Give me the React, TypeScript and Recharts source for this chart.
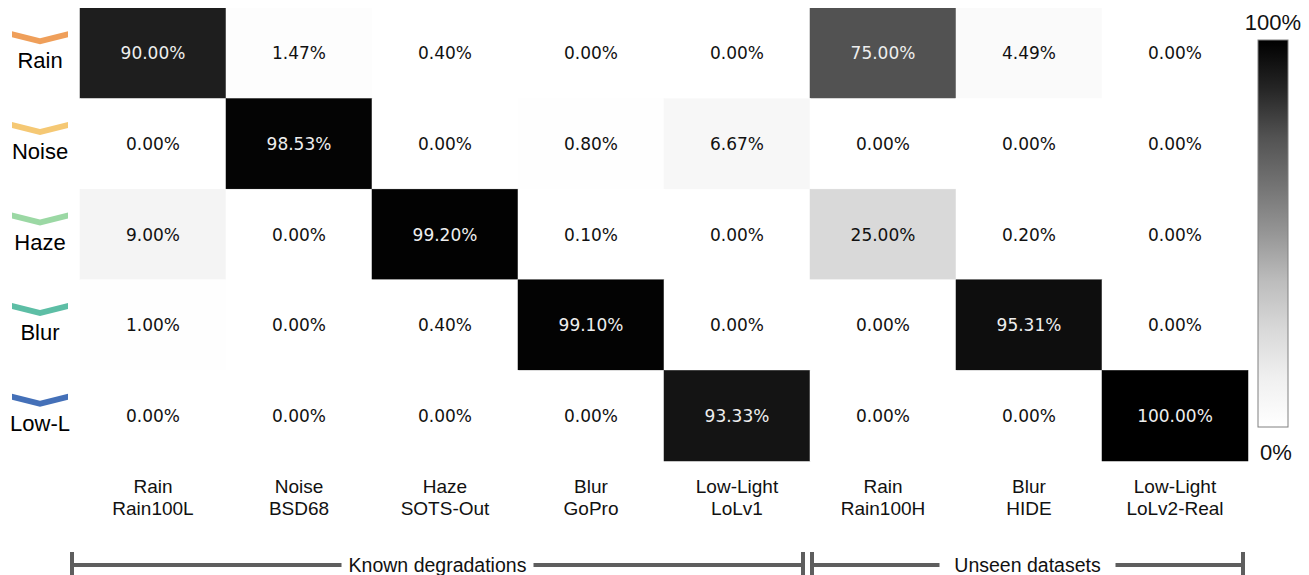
import React from 'react';
import { ScatterChart, Scatter, XAxis, YAxis } from 'recharts';

// Rows: predicted degradation type, columns: evaluated dataset
const rowNames = ['Rain', 'Noise', 'Haze', 'Blur', 'Low-L'];
const rowColors = ['#ef9f5a', '#f5c874', '#9bd8a4', '#5dbea5', '#4470b8'];
const colTypes = ['Rain', 'Noise', 'Haze', 'Blur', 'Low-Light', 'Rain', 'Blur', 'Low-Light'];
const colSets = ['Rain100L', 'BSD68', 'SOTS-Out', 'GoPro', 'LoLv1', 'Rain100H', 'HIDE', 'LoLv2-Real'];

const rainRow = [90.0, 1.47, 0.4, 0.0, 0.0, 75.0, 4.49, 0.0];
const noiseRow = [0.0, 98.53, 0.0, 0.8, 6.67, 0.0, 0.0, 0.0];
const hazeRow = [9.0, 0.0, 99.2, 0.1, 0.0, 25.0, 0.2, 0.0];
const blurRow = [1.0, 0.0, 0.4, 99.1, 0.0, 0.0, 95.31, 0.0];
const lowLightRow = [0.0, 0.0, 0.0, 0.0, 93.33, 0.0, 0.0, 100.0];
const rows = [rainRow, noiseRow, hazeRow, blurRow, lowLightRow];

const groups = [
  { label: 'Known degradations', from: 0, to: 5 },
  { label: 'Unseen datasets', from: 5, to: 8 },
];

// matplotlib "Greys" stops
const GREYS = ['#ffffff', '#f0f0f0', '#d9d9d9', '#bdbdbd', '#969696', '#737373', '#525252', '#252525', '#000000'];

const greys = (t: number) => {
  const v = Math.max(0, Math.min(1, t)) * (GREYS.length - 1);
  const i = Math.min(Math.floor(v), GREYS.length - 2);
  const f = v - i;
  const a = parseInt(GREYS[i].slice(1, 3), 16);
  const b = parseInt(GREYS[i + 1].slice(1, 3), 16);
  const c = Math.round(a + (b - a) * f).toString(16).padStart(2, '0');
  return `#${c}${c}${c}`;
};

const W = 1301;
const H = 567;
const LEFT = 72;
const RIGHT = 61;
const TOP = 0;
const PLOT_BOTTOM = 453;
const PLOT_W = W - LEFT - RIGHT;
const CELL_W = PLOT_W / colSets.length;
const CELL_H = (PLOT_BOTTOM - TOP) / rowNames.length;

const cells = rows.flatMap((vals, r) =>
  vals.map((v, c) => ({ x: c + 0.5, y: r + 0.5, value: v }))
);

const SANS = 'Liberation Sans, Arial, sans-serif';

const HeatCell = (props: any) => {
  const { cx, cy, payload } = props;
  const t = payload.value / 100;
  const fill = greys(t);
  return (
    <g>
      <rect
        x={cx - CELL_W / 2}
        y={cy - CELL_H / 2}
        width={CELL_W}
        height={CELL_H}
        fill={fill}
        stroke={fill}
        strokeWidth={0.5}
      />
      <text
        x={cx}
        y={cy}
        textAnchor="middle"
        dominantBaseline="central"
        fontFamily="DejaVu Sans"
        fontSize={17}
        fill={t > 0.5 ? '#eeeeee' : '#111111'}
      >
        {payload.value.toFixed(2)}%
      </text>
    </g>
  );
};

const RowTick = (props: any) => {
  const { y, index } = props;
  const cx = 32;
  return (
    <g>
      <polygon
        points={`${cx - 28},${y - 22} ${cx},${y - 15} ${cx + 28},${y - 22} ${cx + 28},${y - 16} ${cx},${y - 9} ${cx - 28},${y - 16}`}
        fill={rowColors[index]}
      />
      <text x={cx} y={y + 15} textAnchor="middle" fontFamily={SANS} fontSize={22} fill="#000">
        {rowNames[index]}
      </text>
    </g>
  );
};

const ColTick = (props: any) => {
  const { x, index } = props;
  return (
    <text textAnchor="middle" fontFamily={SANS} fontSize={19} fill="#111">
      <tspan x={x} y={PLOT_BOTTOM + 32}>{colTypes[index]}</tspan>
      <tspan x={x} y={PLOT_BOTTOM + 54}>{colSets[index]}</tspan>
    </text>
  );
};

const Brackets = () => {
  const lineY = 557;
  const capTop = 544;
  const capBottom = 567;
  const stroke = '#5e5e5e';
  return (
    <g>
      {groups.map((g, i) => {
        const x0 = LEFT + g.from * CELL_W + (i === 0 ? -8 : 2);
        const x1 = LEFT + g.to * CELL_W - (i === 0 ? 7 : 5);
        const mid = (x0 + x1) / 2;
        const half = i === 0 ? 96 : 88;
        return (
          <g key={g.label}>
            <line x1={x0} y1={lineY} x2={mid - half} y2={lineY} stroke={stroke} strokeWidth={4} />
            <line x1={mid + half} y1={lineY} x2={x1} y2={lineY} stroke={stroke} strokeWidth={4} />
            <line x1={x0} y1={capTop} x2={x0} y2={capBottom} stroke={stroke} strokeWidth={4} />
            <line x1={x1} y1={capTop} x2={x1} y2={capBottom} stroke={stroke} strokeWidth={4} />
            <text x={mid} y={lineY + 7} textAnchor="middle" fontFamily={SANS} fontSize={19.5} fill="#111">
              {g.label}
            </text>
          </g>
        );
      })}
    </g>
  );
};

const ColorBar = () => {
  const x = 1250;
  const y0 = 32;
  const y1 = 419;
  return (
    <g>
      <defs>
        <linearGradient id="greysBar" x1="0" y1="1" x2="0" y2="0">
          {GREYS.map((c, i) => (
            <stop key={i} offset={i / (GREYS.length - 1)} stopColor={c} />
          ))}
        </linearGradient>
      </defs>
      <rect x={x} y={y0} width={30} height={y1 - y0} fill="url(#greysBar)" stroke="#808080" strokeWidth={1} />
      <text x={x + 15} y={y0 - 10} textAnchor="middle" fontFamily={SANS} fontSize={22} fill="#111">100%</text>
      <text x={x + 18} y={y1 + 33} textAnchor="middle" fontFamily={SANS} fontSize={22} fill="#111">0%</text>
    </g>
  );
};

export default function App() {
  return (
    <div style={{ position: 'relative', width: W, height: H }}>
      <ScatterChart width={W} height={H} margin={{ top: TOP, right: RIGHT, left: 0, bottom: H - PLOT_BOTTOM - 60 }}>
        <XAxis
          type="number"
          dataKey="x"
          domain={[0, colSets.length]}
          ticks={colSets.map((_, i) => i + 0.5)}
          interval={0}
          axisLine={false}
          tickLine={false}
          height={60}
          tick={<ColTick />}
        />
        <YAxis
          type="number"
          dataKey="y"
          domain={[0, rowNames.length]}
          ticks={rowNames.map((_, i) => i + 0.5)}
          interval={0}
          reversed
          axisLine={false}
          tickLine={false}
          width={LEFT}
          tick={<RowTick />}
        />
        <Scatter data={cells} shape={<HeatCell />} isAnimationActive={false} />
      </ScatterChart>
      <svg width={W} height={H} style={{ position: 'absolute', left: 0, top: 0, pointerEvents: 'none' }}>
        <Brackets />
        <ColorBar />
      </svg>
    </div>
  );
}
